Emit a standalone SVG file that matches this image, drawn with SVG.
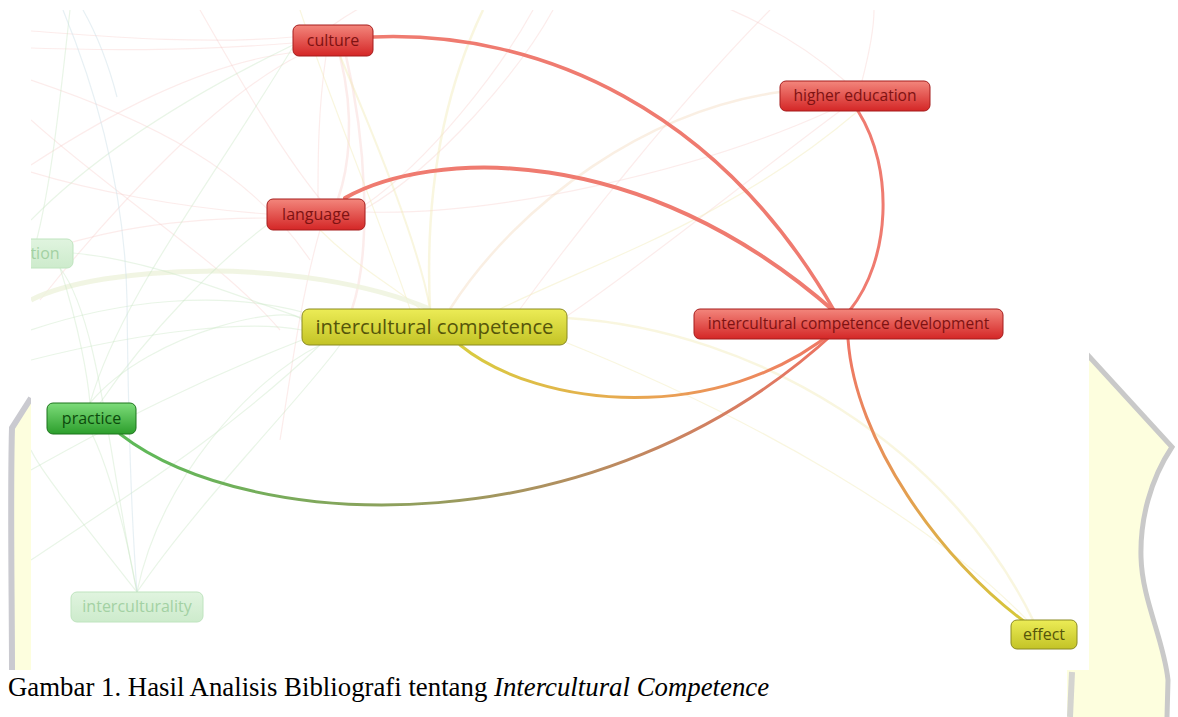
<svg xmlns="http://www.w3.org/2000/svg" width="1178" height="717" viewBox="0 0 1178 717">
<defs>
<style>
.lbl{font-family:"Open Sans","Noto Sans","DejaVu Sans",sans-serif;text-anchor:middle}
.red rect{fill:url(#redG);stroke:#a51c1c;stroke-width:1}
.red text{fill:#7e1212;font-size:16px}
.yel rect{fill:url(#yelG);stroke:#8a8a22;stroke-width:1}
.yel text{fill:#55550a}
.grn rect{fill:url(#grnG);stroke:#1c741c;stroke-width:1}
.grn text{fill:#0c4a0c;font-size:16px}
.fade rect{fill:url(#fadeG);stroke:#bfe4bf;stroke-width:1}
.fade text{fill:#a3d1a3;font-size:16px}
.e{fill:none;stroke-linecap:round}
.f{fill:none;stroke-width:1.2}
.fp{stroke:#f7c9c5;opacity:0.35}
.fy{stroke:#f1eab9;opacity:0.45}
.fg{stroke:#c9e6c2;opacity:0.4}
.fb{stroke:#c9dde6;opacity:0.45}
.cap{font-family:"Liberation Serif","Times New Roman",serif;font-size:26.8px;fill:#000}
</style>
<linearGradient id="redG" x1="0" y1="0" x2="0" y2="1"><stop offset="0" stop-color="#f3867c"/><stop offset="1" stop-color="#d42626"/></linearGradient>
<linearGradient id="yelG" x1="0" y1="0" x2="0" y2="1"><stop offset="0" stop-color="#ecec56"/><stop offset="1" stop-color="#c3c326"/></linearGradient>
<linearGradient id="grnG" x1="0" y1="0" x2="0" y2="1"><stop offset="0" stop-color="#7ddc7a"/><stop offset="1" stop-color="#2c9e2c"/></linearGradient>
<linearGradient id="fadeG" x1="0" y1="0" x2="0" y2="1"><stop offset="0" stop-color="#e0f4df"/><stop offset="1" stop-color="#cdebcc"/></linearGradient>
<linearGradient id="gIcc" gradientUnits="userSpaceOnUse" x1="460" y1="345" x2="835" y2="330"><stop offset="0" stop-color="#d8cc40"/><stop offset="0.5" stop-color="#e9a452"/><stop offset="1" stop-color="#ef7565"/></linearGradient>
<linearGradient id="gPrac" gradientUnits="userSpaceOnUse" x1="120" y1="434" x2="835" y2="332"><stop offset="0" stop-color="#5cba58"/><stop offset="0.45" stop-color="#9a9a5e"/><stop offset="1" stop-color="#ee7262"/></linearGradient>
<linearGradient id="gEff" gradientUnits="userSpaceOnUse" x1="848" y1="339" x2="1025" y2="622"><stop offset="0" stop-color="#ef7465"/><stop offset="0.5" stop-color="#e3a050"/><stop offset="1" stop-color="#d6c83a"/></linearGradient>
<clipPath id="mapClip"><rect x="31" y="10" width="1058" height="660"/></clipPath>
</defs>

<rect x="0" y="0" width="1178" height="717" fill="#ffffff"/>

<g id="watermark">
<path d="M1085,352 L1172,447 C1150,480 1140,520 1141,557 C1142,600 1164,640 1168,680 L1167,717 L1040,717 L1040,352 Z" fill="#fdfede" stroke="none"/>
<path d="M1085,352 L1172,447 C1150,480 1140,520 1141,557 C1142,600 1164,640 1168,680 L1167,717" fill="none" stroke="#c9c9c9" stroke-width="5"/>
<path d="M1072,672 L1070,717" fill="none" stroke="#d4d4d0" stroke-width="6"/>
<path d="M31,398 L12,428 C10,500 12,600 12,670 L31,670 Z" fill="#fdfede"/>
<path d="M31,398 L12,428 C10,500 12,600 12,672" fill="none" stroke="#cacad0" stroke-width="6"/>
</g>

<rect x="31" y="10" width="1058" height="660" fill="#ffffff"/>
<rect x="8" y="670" width="1059" height="47" fill="#ffffff"/>

<g id="faint-links" clip-path="url(#mapClip)">
<path class="f fp" d="M293,37 C200,45 100,36 31,31"/>
<path class="f fp" d="M293,43 C180,52 100,50 31,48"/>
<path class="f fp" d="M298,52 C200,62 100,120 31,165"/>
<path class="f fp" d="M300,55 C220,95 120,200 40,300"/>
<path class="f fp" d="M267,214 C180,208 90,190 31,172"/>
<path class="f fp" d="M267,218 C150,218 80,238 31,255"/>
<path class="f fp" style="stroke-width:2.5" d="M340,56 C356,120 348,170 338,199"/>
<path class="f fp" d="M326,56 C318,110 318,160 318,199"/>
<path class="f fp" style="stroke-width:2.5" d="M346,56 C366,140 372,250 352,309"/>
<path class="f fp" d="M333,25 C480,-80 720,-30 845,81"/>
<path class="f fp" d="M365,212 C500,216 700,170 830,111"/>
<path class="f fp" d="M520,309 C600,200 700,80 770,10"/>
<path class="f fp" d="M862,81 C870,50 874,30 874,10"/>
<path class="f fp" d="M840,111 C760,170 650,260 567,316"/>
<path class="f fp" d="M365,205 C430,160 500,70 533,10"/>
<path class="f fp" d="M365,209 C440,165 520,70 553,10"/>
<path class="f fp" d="M31,80 C150,120 250,170 310,260"/>
<path class="f fp" d="M200,10 C240,80 280,150 320,199"/>
<path class="f fp" d="M31,120 C120,200 220,260 280,330"/>
<path class="f fp" d="M320,230 C300,300 290,380 280,440"/>
<path class="f fy" style="stroke-width:2.5" d="M430,309 C425,200 440,100 483,10"/>
<path class="f fy" style="stroke-width:2.5;stroke:#f3dcc0" d="M450,309 C520,200 650,110 780,92"/>
<path class="f fy" style="stroke-width:2.5" d="M567,318 C760,330 950,450 1033,620"/>
<path class="f fy" d="M560,340 C760,420 930,520 1027,620"/>
<path class="f fy" d="M500,309 C600,260 730,220 858,111"/>
<path class="f fy" style="stroke-width:2" d="M340,56 C380,150 420,250 430,309"/>
<path class="f fy" d="M320,230 C360,270 400,290 420,309"/>
<path class="f fy" d="M300,10 C330,100 380,220 410,309"/>
<path class="f" style="stroke:#eef3dc;stroke-width:5;opacity:0.8" d="M31,300 C100,265 300,255 430,309"/>
<path class="f fg" d="M90,403 C150,330 300,300 302,322"/>
<path class="f fg" d="M90,403 C120,300 200,200 293,47"/>
<path class="f fg" d="M100,403 C150,330 220,260 267,225"/>
<path class="f fg" d="M137,592 C120,500 100,450 92,434"/>
<path class="f fg" d="M137,592 C160,480 250,380 320,345"/>
<path class="f fg" d="M137,592 C200,500 300,400 340,345"/>
<path class="f fg" d="M137,592 C80,520 40,470 31,450"/>
<path class="f fg" d="M137,592 C110,470 100,320 60,268"/>
<path class="f fg" d="M31,470 C120,420 200,380 302,340"/>
<path class="f fg" d="M73,253 C150,260 220,290 302,318"/>
<path class="f fg" d="M60,268 C80,330 88,380 90,403"/>
<path class="f fg" d="M31,360 C150,330 250,320 302,330"/>
<path class="f fg" d="M31,330 C120,300 220,290 302,312"/>
<path class="f fg" d="M31,220 C100,150 200,90 293,45"/>
<path class="f fg" d="M31,560 C120,500 220,440 320,345"/>
<path class="f fg" d="M70,10 C60,100 50,200 31,260"/>
<path class="f fb" d="M63,10 C100,100 125,200 127,300 C128,400 130,500 137,592"/>
<path class="f fb" d="M83,10 C100,40 110,70 117,97"/>
</g>

<g id="connectors" clip-path="url(#mapClip)">
<path class="e" stroke="#ef7b70" stroke-width="3.5" d="M373,37 C540,30 720,110 835,312"/>
<path class="e" stroke="#ef7b70" stroke-width="4" d="M345,198 C430,150 640,140 835,312"/>
<path class="e" stroke="#ef7b70" stroke-width="3" d="M858,111 C895,170 890,260 850,310"/>
<path class="e" stroke="url(#gIcc)" stroke-width="3" d="M460,345 C540,410 720,425 835,330"/>
<path class="e" stroke="url(#gPrac)" stroke-width="3" d="M120,434 C250,535 600,550 835,332"/>
<path class="e" stroke="url(#gEff)" stroke-width="3" d="M848,339 C855,440 940,560 1025,622"/>
</g>

<g id="node-tion" class="fade lbl" clip-path="url(#mapClip)">
<rect x="10" y="239" width="63" height="29" rx="6"/>
<text x="45" y="259">tion</text>
</g>
<g id="node-interculturality" class="fade lbl">
<rect x="71" y="592" width="132" height="30" rx="6"/>
<text x="137" y="612">interculturality</text>
</g>
<g id="node-culture" class="red lbl">
<rect x="293" y="25" width="80" height="31" rx="6"/>
<text x="333" y="46">culture</text>
</g>
<g id="node-language" class="red lbl">
<rect x="267" y="199" width="98" height="31" rx="6"/>
<text x="316" y="220">language</text>
</g>
<g id="node-higher-education" class="red lbl">
<rect x="780" y="81" width="150" height="30" rx="6"/>
<text x="855" y="101" style="font-size:15.6px">higher education</text>
</g>
<g id="node-intercultural-competence-development" class="red lbl">
<rect x="694" y="309" width="309" height="30" rx="6"/>
<text x="848.5" y="329" style="font-size:15.5px">intercultural competence development</text>
</g>
<g id="node-intercultural-competence" class="yel lbl">
<rect x="302" y="309" width="265" height="36" rx="7"/>
<text x="434.5" y="334" style="font-size:20.3px">intercultural competence</text>
</g>
<g id="node-practice" class="grn lbl">
<rect x="47" y="403" width="89" height="31" rx="6"/>
<text x="91.5" y="424">practice</text>
</g>
<g id="node-effect" class="yel lbl">
<rect x="1011" y="620" width="66" height="29" rx="6"/>
<text x="1044" y="640" style="font-size:16px">effect</text>
</g>

<text class="cap" x="8" y="696">Gambar 1. Hasil Analisis Bibliografi tentang <tspan font-style="italic">Intercultural Competence</tspan></text>
</svg>
